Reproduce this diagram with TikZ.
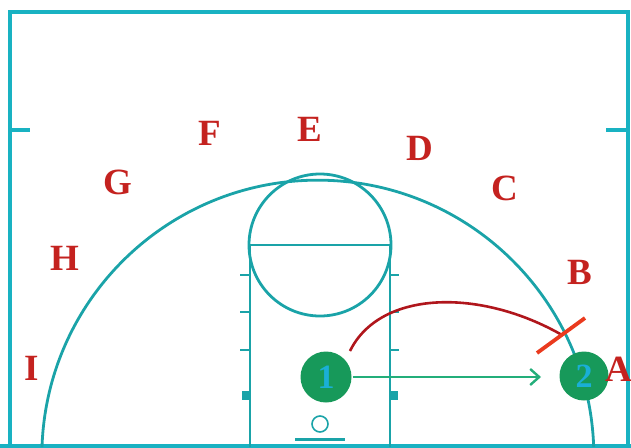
\documentclass[tikz,border=0pt]{standalone}
\usepackage{fontspec}
\setmainfont{Liberation Serif}
\usetikzlibrary{arrows.meta}
\definecolor{border}{HTML}{19B2C2}
\definecolor{courtline}{HTML}{1AA3A8}
\definecolor{pgreen}{HTML}{17995A}
\definecolor{pnum}{HTML}{1AAFD6}
\definecolor{lred}{HTML}{C4221F}
\definecolor{cred}{HTML}{B0161C}
\definecolor{sred}{HTML}{EA3A1E}
\definecolor{agreen}{HTML}{23AE7A}
\begin{document}
\begin{tikzpicture}[x=1pt,y=1pt,
  bline/.style={draw=border,line width=4.5pt},
  cline/.style={draw=courtline,line width=2.8pt},
  spot/.style={text=lred,font=\fontsize{37}{37}\selectfont\bfseries,inner sep=0pt},
  player/.style={circle,fill=pgreen,minimum size=51pt,inner sep=0pt,text=pnum,font=\fontsize{34}{34}\selectfont\bfseries},
  pass/.style={draw=agreen,line width=2.4pt,-{Straight Barb[length=9pt,width=16pt,line width=2.4pt]}},
  cut/.style={draw=cred,line width=2.6pt},
  screen/.style={draw=sred,line width=3.8pt}]
\useasboundingbox (0,0) rectangle (631,-447);
\clip (0,0) rectangle (631,-447);
% outer border
\draw[bline] (10,-449) -- (10,-12) -- (628,-12) -- (628,-449);
\draw[bline] (10,-130) -- (30,-130);
\draw[bline] (606,-130) -- (628,-130);
\draw[bline] (0,-446) -- (631,-446);
% three point arc
\draw[cline] (42,-447) arc[start angle=178.1, end angle=1.9, radius=276];
% lane
\draw[cline] (250,-447) -- (250,-245) -- (390,-245) -- (390,-447);
\draw[cline] (320,-245) circle (71);
% hash marks
\foreach \yy in {275,312,350}{
  \draw[cline,line width=2.2pt] (240,-\yy) -- (250,-\yy);
  \draw[cline,line width=2.2pt] (390,-\yy) -- (399,-\yy);
}
\fill[courtline] (242,-391) rectangle (250,-400);
\fill[courtline] (390,-391) rectangle (398,-400);
% basket
\draw[cline,line width=1.6pt] (320,-424) circle (8);
\draw[cline,line width=3pt] (295,-439) -- (345,-439);
% spot letters
\node[spot] (E) at (310,-129) {E};
\node[spot] (F) at (210,-133) {F};
\node[spot] (D) at (420,-148) {D};
\node[spot] (G) at (118,-182) {G};
\node[spot] (C) at (505,-188) {C};
\node[spot] (H) at (65,-258) {H};
\node[spot] (B) at (580,-272) {B};
\node[spot] (I) at (32,-368) {I};
% players
\node[player] (p1) at (326,-377) {1};
\node[player,minimum size=49pt] (p2) at (584,-376) {2};
\node[spot] (A) at (619,-369) {A};
% pass arrow
\coordinate (passend) at (541,-377);
\draw[pass] (p1.east) ++(1,0) -- (passend);
% cut with screen
\coordinate (cutstart) at (350,-351);
\coordinate (cutend) at (562,-335);
\coordinate (s1) at (537,-353);
\coordinate (s2) at (585,-318);
\draw[cut] (cutstart) .. controls (380,-290) and (480,-288) .. (cutend);
\draw[screen] (s1) -- (s2);
\end{tikzpicture}
\end{document}
